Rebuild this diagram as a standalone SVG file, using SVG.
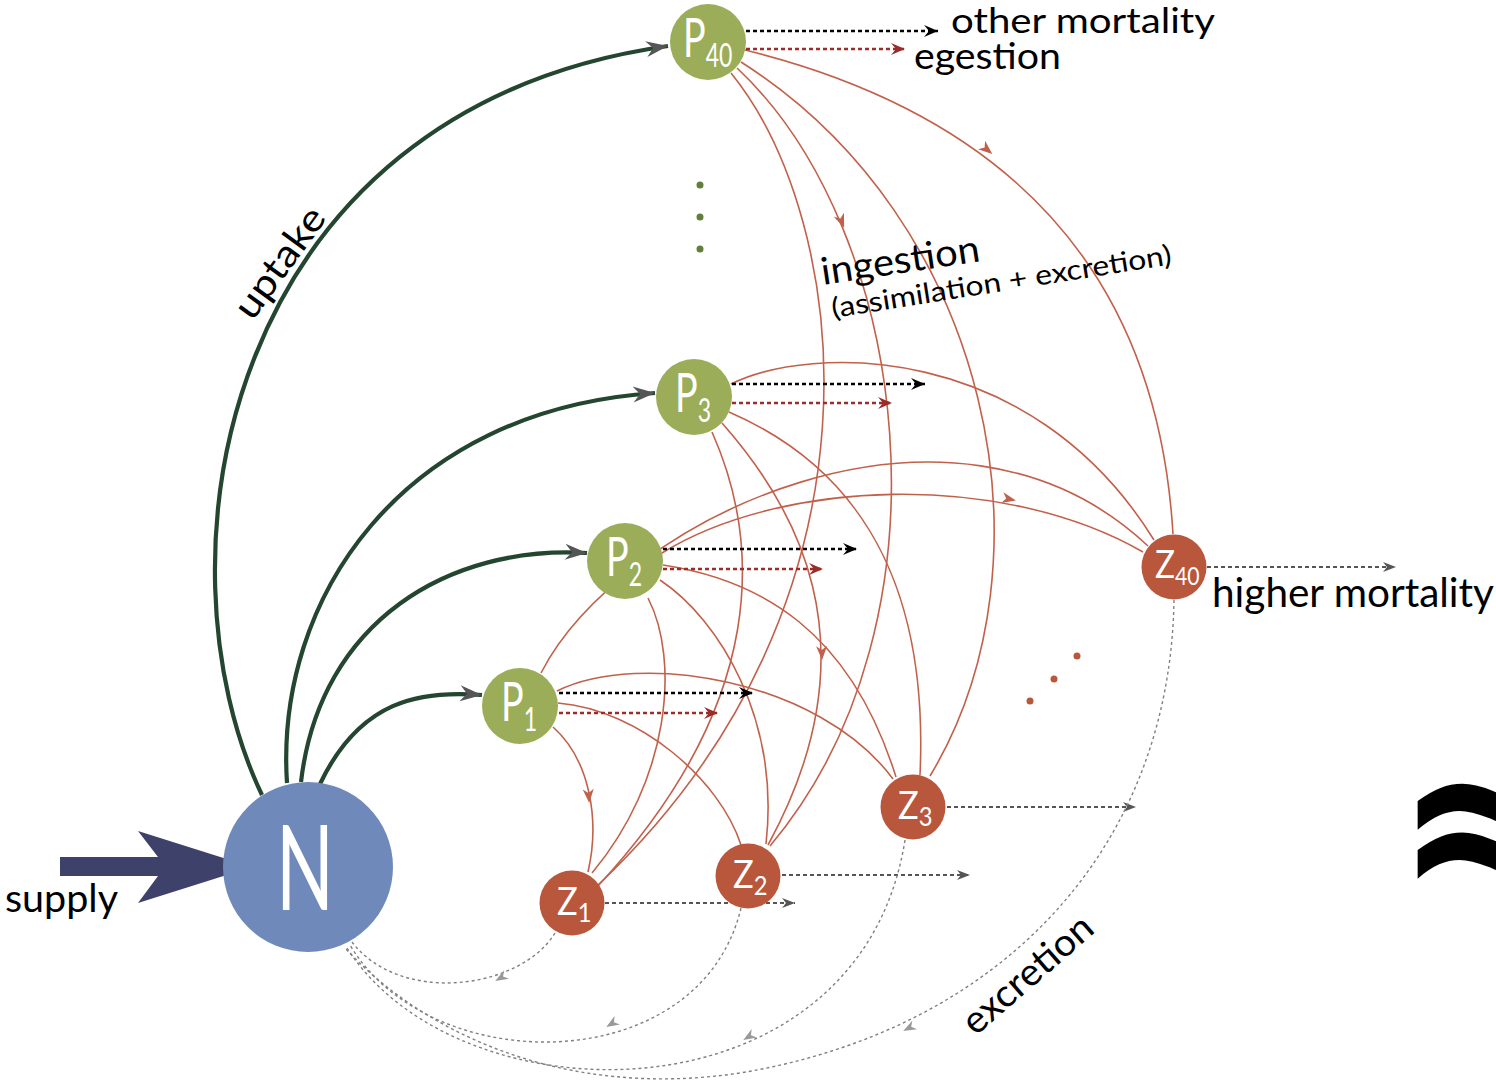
<svg xmlns="http://www.w3.org/2000/svg" width="1496" height="1080" viewBox="0 0 1496 1080">
<style>
.ing{fill:none;stroke:#c2614b;stroke-width:1.6}
.upt{fill:none;stroke:#244630;stroke-width:4.2}
.mb{fill:none;stroke:#000;stroke-width:2.6;stroke-dasharray:4 3}
.mr{fill:none;stroke:#9a2c2a;stroke-width:2.6;stroke-dasharray:4 3}
.mg{fill:none;stroke:#555;stroke-width:2.2;stroke-dasharray:4 3}
.exc{fill:none;stroke:#808080;stroke-width:1.4;stroke-dasharray:3 3}
.lbl{font-family:Lato,"Liberation Sans",sans-serif;fill:#000}
.nl{font-family:Lato,"Liberation Sans",sans-serif;fill:#fff}
.P{fill:#9bad58}
.Z{fill:#b8573c}
</style>
<defs>
<marker id="aB" markerUnits="userSpaceOnUse" viewBox="-14 -7 15 14" refX="0" refY="0" markerWidth="15" markerHeight="14" orient="auto"><path d="M0,0 L-14,-6 L-9,0 L-14,6Z" fill="#000"/></marker>
<marker id="aR" markerUnits="userSpaceOnUse" viewBox="-14 -7 15 14" refX="0" refY="0" markerWidth="15" markerHeight="14" orient="auto"><path d="M0,0 L-14,-6 L-9,0 L-14,6Z" fill="#9a2c2a"/></marker>
<marker id="aG" markerUnits="userSpaceOnUse" viewBox="-14 -7 15 14" refX="0" refY="0" markerWidth="15" markerHeight="14" orient="auto"><path d="M0,0 L-13,-5 L-9,0 L-13,5Z" fill="#555"/></marker>
<marker id="aU" markerUnits="userSpaceOnUse" viewBox="-24 -10 25 20" refX="0" refY="0" markerWidth="25" markerHeight="20" orient="auto"><path d="M0,0 L-22,-8 L-15,0 L-22,8Z" fill="#555"/></marker>
<path id="ra" d="M3,0 L-11,-5.5 L-7,0 L-11,5.5Z" fill="#c2614b"/>
<path id="ea" d="M2,0 L-11,-5 L-7,0 L-11,5Z" fill="#999"/>
</defs>

<g id="connectors">
<!-- uptake -->
<path class="upt" d="M262,795 C 150,560 220,110 668,46" marker-end="url(#aU)"/>
<path class="upt" d="M287,783 C 275,600 400,410 655,393" marker-end="url(#aU)"/>
<path class="upt" d="M301,782 C 320,620 450,545 587,553" marker-end="url(#aU)"/>
<path class="upt" d="M320,784 C 360,700 420,690 482,695" marker-end="url(#aU)"/>

<!-- ingestion -->
<path class="ing" d="M745,50 Q1150,150 1173,534"/>
<path class="ing" d="M731,73 C 850,220 900,600 598,885"/>
<path class="ing" d="M737,68 C 910,230 960,620 770,846"/>
<path class="ing" d="M741,62 C 990,220 1060,560 930,776"/>
<path class="ing" d="M731,384 C 810,345 1030,340 1154,540"/>
<path class="ing" d="M729,412 C 840,460 930,560 920,775"/>
<path class="ing" d="M722,423 C 790,500 880,640 768,845"/>
<path class="ing" d="M712,432 C 760,540 770,700 598,886"/>
<path class="ing" d="M662,553 C 780,480 1000,470 1143,552"/>
<path class="ing" d="M663,565 C 760,580 850,630 896,777"/>
<path class="ing" d="M660,580 C 720,620 780,720 766,844"/>
<path class="ing" d="M648,598 C 680,660 670,780 592,873"/>
<path class="ing" d="M541,673 C 620,520 950,360 1148,546"/>
<path class="ing" d="M557,691 C 640,650 820,680 893,779"/>
<path class="ing" d="M558,703 C 640,710 720,780 741,845"/>
<path class="ing" d="M553,727 C 590,760 600,820 588,872"/>
<use href="#ra" transform="translate(990,152) rotate(40)"/>
<use href="#ra" transform="translate(843,225) rotate(68)"/>
<use href="#ra" transform="translate(822,657) rotate(88)"/>
<use href="#ra" transform="translate(1013,500) rotate(12)"/>
<use href="#ra" transform="translate(589,800) rotate(86)"/>

<!-- mortality / egestion -->
<path class="mb" d="M746,31 H938" marker-end="url(#aB)"/>
<path class="mr" d="M746,49 H905" marker-end="url(#aR)"/>
<path class="mb" d="M732,384 H925" marker-end="url(#aB)"/>
<path class="mr" d="M732,403 H892" marker-end="url(#aR)"/>
<path class="mb" d="M663,549 H857" marker-end="url(#aB)"/>
<path class="mr" d="M663,569 H823" marker-end="url(#aR)"/>
<path class="mb" d="M559,693 H753" marker-end="url(#aB)"/>
<path class="mr" d="M559,713 H718" marker-end="url(#aR)"/>
<path class="mg" d="M605,903 H795" marker-end="url(#aG)"/>
<path class="mg" d="M782,875 H970" marker-end="url(#aG)"/>
<path class="mg" d="M947,807 H1136" marker-end="url(#aG)"/>
<path class="mg" d="M1207,567 H1396" marker-end="url(#aG)"/>

<!-- excretion -->
<path class="exc" d="M555,933 C 520,990 400,1005 352,942"/>
<path class="exc" d="M741,908 C 700,1080 430,1080 350,945"/>
<path class="exc" d="M905,840 C 860,1125 460,1125 347,948"/>
<path class="exc" d="M1174,600 C 1170,850 1000,1030 740,1073 C 560,1100 420,1030 345,948"/>
<use href="#ea" transform="translate(497,980) rotate(150)"/>
<use href="#ea" transform="translate(608,1026) rotate(148)"/>
<use href="#ea" transform="translate(745,1039) rotate(148)"/>
<use href="#ea" transform="translate(905,1030) rotate(152)"/>

<!-- supply -->
<path d="M60,857 H158 L138,831 L252,867 L138,903 L158,876 H60Z" fill="#3e4169"/>
</g>

<g id="dots">
<circle cx="700" cy="185" r="3.5" fill="#5f7f3c"/>
<circle cx="700" cy="217" r="3.5" fill="#5f7f3c"/>
<circle cx="700" cy="249" r="3.5" fill="#5f7f3c"/>
<circle cx="1077" cy="656" r="3.5" fill="#b8573c"/>
<circle cx="1054" cy="679" r="3.5" fill="#b8573c"/>
<circle cx="1030" cy="701" r="3.5" fill="#b8573c"/>
</g>

<g id="N"><circle cx="308" cy="867" r="85" fill="#6f8aba"/><text class="nl" x="276" y="910" font-size="118" textLength="58" lengthAdjust="spacingAndGlyphs">N</text></g>
<g id="P40"><circle class="P" cx="708" cy="42" r="38"/><text class="nl" font-size="54" transform="translate(683,57) scale(0.7,1)">P<tspan font-size="33" dy="10">40</tspan></text></g>
<g id="P3"><circle class="P" cx="694" cy="397" r="38"/><text class="nl" font-size="54" transform="translate(675,412) scale(0.7,1)">P<tspan font-size="33" dy="10">3</tspan></text></g>
<g id="P2"><circle class="P" cx="625" cy="561" r="38"/><text class="nl" font-size="54" transform="translate(606,576) scale(0.7,1)">P<tspan font-size="33" dy="10">2</tspan></text></g>
<g id="P1"><circle class="P" cx="520" cy="706" r="38"/><text class="nl" font-size="54" transform="translate(501,721) scale(0.7,1)">P<tspan font-size="33" dy="10">1</tspan></text></g>
<g id="Z1"><circle class="Z" cx="572" cy="903" r="32.5"/><text class="nl" font-size="39" transform="translate(557,915) scale(0.88,1)">Z<tspan font-size="27" dy="7">1</tspan></text></g>
<g id="Z2"><circle class="Z" cx="748" cy="876" r="32.5"/><text class="nl" font-size="39" transform="translate(733,888) scale(0.88,1)">Z<tspan font-size="27" dy="7">2</tspan></text></g>
<g id="Z3"><circle class="Z" cx="913" cy="807" r="32.5"/><text class="nl" font-size="39" transform="translate(898,819) scale(0.88,1)">Z<tspan font-size="27" dy="7">3</tspan></text></g>
<g id="Z40"><circle class="Z" cx="1174" cy="567" r="32.5"/><text class="nl" font-size="39" transform="translate(1155,578) scale(0.85,1)">Z<tspan font-size="25" dy="7">40</tspan></text></g>

<g id="labels">
<text class="lbl" x="951" y="33" font-size="35" textLength="264" lengthAdjust="spacingAndGlyphs">other mortality</text>
<text class="lbl" x="914" y="69" font-size="36" textLength="147" lengthAdjust="spacingAndGlyphs">egestion</text>
<text class="lbl" x="1212" y="607" font-size="40" textLength="282" lengthAdjust="spacingAndGlyphs">higher mortality</text>
<text class="lbl" x="5" y="912" font-size="38" textLength="113" lengthAdjust="spacingAndGlyphs">supply</text>
<text class="lbl" font-size="38" text-anchor="middle" textLength="128" lengthAdjust="spacingAndGlyphs" transform="translate(290,270) rotate(-54)">uptake</text>
<text class="lbl" font-size="38" textLength="160" lengthAdjust="spacingAndGlyphs" transform="translate(823,285) rotate(-8.6)">ingestion</text>
<text class="lbl" font-size="28" textLength="344" lengthAdjust="spacingAndGlyphs" transform="translate(833,318) rotate(-9)">(assimilation + excretion)</text>
<text class="lbl" font-size="38" text-anchor="middle" textLength="160" lengthAdjust="spacingAndGlyphs" transform="translate(1036,984) rotate(-41)">excretion</text>
<text font-family="'DejaVu Sans',sans-serif" font-weight="bold" font-size="240" x="1392" y="905" fill="#000">≈</text>
</g>
</svg>
